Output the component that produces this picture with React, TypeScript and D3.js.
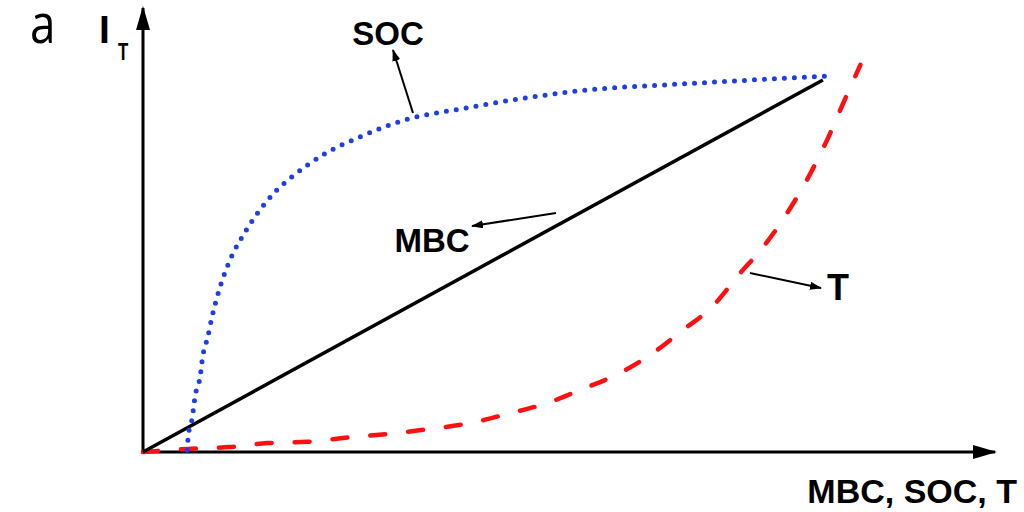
import React from "react";
import * as d3 from "d3";

const W = 1024;
const H = 512;

// abstract units 0..100 on both axes
const mbcX = [0, 79.8];
const mbcY = [0, 83.8];

const socX = [5.2, 5.3, 5.8, 6.1, 6.7, 7.0, 7.6, 8.1, 8.7, 9.3, 10.2, 12.0, 13.3, 15.5, 17.3, 19.3, 21.1, 25.5, 30.8, 38.0, 45.8, 53.6, 61.5, 66.9, 73.6, 81.0];
const socY = [0.4, 3.4, 7.9, 12.4, 16.9, 21.4, 25.9, 30.4, 34.9, 38.7, 43.2, 49.6, 53.4, 58.6, 61.7, 64.6, 66.9, 71.0, 74.8, 77.5, 80.0, 81.8, 82.7, 83.3, 84.0, 84.7];

const tX = [0, 5.3, 10.2, 14.6, 19.3, 24.7, 29.0, 33.7, 38.4, 42.8, 47.4, 51.6, 56.0, 59.7, 63.4, 66.8, 70.1, 72.8, 75.6, 78.1, 80.3, 82.2, 84.2];
const tY = [0, 0.7, 1.1, 2.0, 2.3, 3.4, 4.1, 5.2, 6.5, 8.6, 11.0, 14.2, 17.8, 22.1, 27.5, 32.7, 40.3, 46.2, 53.8, 61.9, 70.3, 78.6, 87.2];

const xTitle = "MBC, SOC, T";
const panelLabel = "a";
const yTitleMain = "I";
const yTitleSub = "T";
const labels = { soc: "SOC", mbc: "MBC", t: "T" };

const x = d3.scaleLinear().domain([0, 100]).range([143, 995]);
const y = d3.scaleLinear().domain([0, 100]).range([452, 8]);

const toPts = (xs: number[], ys: number[]) => xs.map((v, i) => [v, ys[i]] as [number, number]);

const line = d3
  .line<[number, number]>()
  .x((d) => x(d[0]))
  .y((d) => y(d[1]))
  .curve(d3.curveMonotoneX);

const straight = d3
  .line<[number, number]>()
  .x((d) => x(d[0]))
  .y((d) => y(d[1]));

const font = "'Liberation Sans', Arial, sans-serif";

export default function App() {
  return (
    <svg
      width={W}
      height={H}
      viewBox={`0 0 ${W} ${H}`}
      style={{ position: "absolute", left: 0, top: 0, background: "#fff" }}
    >
      <defs>
        <marker id="axArrow" viewBox="0 0 24 14" refX="22" refY="7" markerWidth="24" markerHeight="14" markerUnits="userSpaceOnUse" orient="auto">
          <path d="M0,0 L24,7 L0,14 Z" fill="#000" />
        </marker>
        <marker id="smArrow" viewBox="0 0 12 8" refX="11" refY="4" markerWidth="12" markerHeight="8" markerUnits="userSpaceOnUse" orient="auto">
          <path d="M0,0 L12,4 L0,8 Z" fill="#000" />
        </marker>
      </defs>
      <rect width={W} height={H} fill="#fff" />

      {/* axes */}
      <line x1={x(0)} y1={y(0)} x2={x(0)} y2={y(100)} stroke="#000" strokeWidth={3} markerEnd="url(#axArrow)" />
      <line x1={x(0) - 2} y1={y(0)} x2={x(100)} y2={y(0)} stroke="#000" strokeWidth={3} markerEnd="url(#axArrow)" />

      {/* T curve */}
      <path d={line(toPts(tX, tY)) || ""} fill="none" stroke="#ff1010" strokeWidth={4.5} strokeDasharray="15 23" strokeLinecap="round" />
      {/* MBC line */}
      <path d={straight(toPts(mbcX, mbcY)) || ""} fill="none" stroke="#000" strokeWidth={3.5} />
      {/* SOC curve */}
      <path d={line(toPts(socX, socY)) || ""} fill="none" stroke="#1f3fe6" strokeWidth={5} strokeDasharray="0 10" strokeLinecap="round" />

      {/* pointers */}
      <line x1={413} y1={113} x2={393} y2={50} stroke="#000" strokeWidth={2} markerEnd="url(#smArrow)" />
      <line x1={556} y1={213} x2={472} y2={226} stroke="#000" strokeWidth={2} markerEnd="url(#smArrow)" />
      <line x1={750} y1={273} x2={821} y2={288} stroke="#000" strokeWidth={2} markerEnd="url(#smArrow)" />

      <g fontFamily={font} fontWeight="bold" fill="#000">
        <text x={388} y={45} fontSize={33} textAnchor="middle">{labels.soc}</text>
        <text x={432} y={252} fontSize={33} textAnchor="middle">{labels.mbc}</text>
        <text x={838} y={300} fontSize={36} textAnchor="middle">{labels.t}</text>
        <text x={1017} y={503} fontSize={34} textAnchor="end">{xTitle}</text>
        <text x={99} y={43} fontSize={39}>{yTitleMain}</text>
        <text x={118} y={60} fontSize={24} transform="translate(118,60) scale(0.7,1) translate(-118,-60)">{yTitleSub}</text>
      </g>
      <text x={30} y={43} fontSize={54} fontFamily="'Open Sans', 'Liberation Sans', sans-serif" fill="#000" transform="translate(30,43) scale(0.85,1) translate(-30,-43)">
        {panelLabel}
      </text>
    </svg>
  );
}
